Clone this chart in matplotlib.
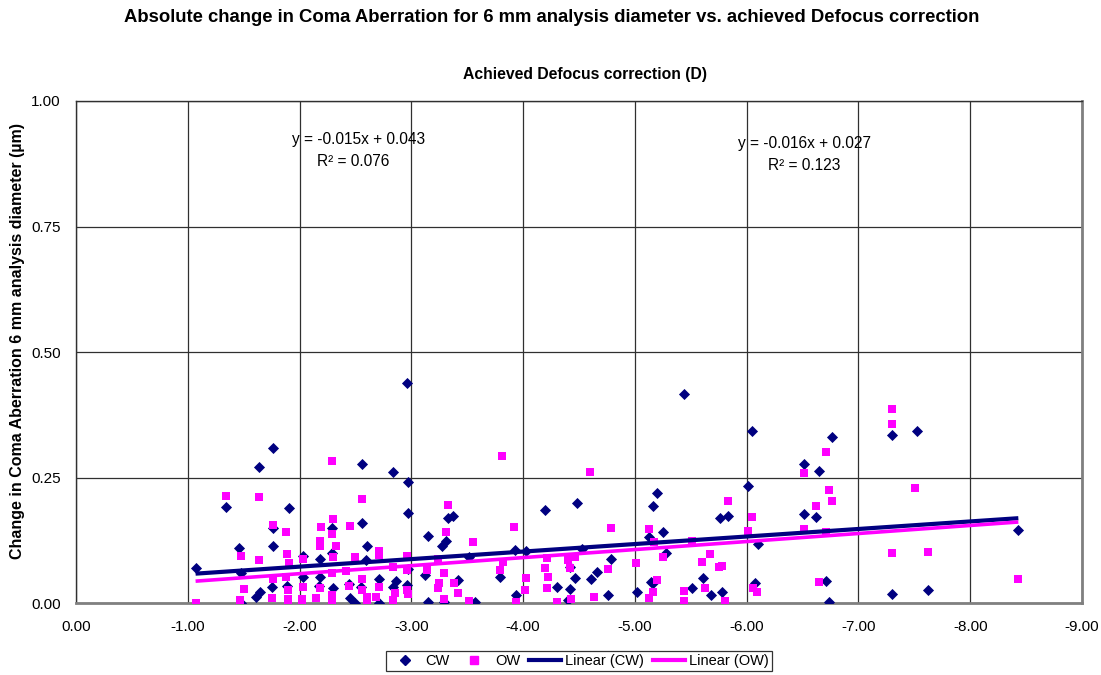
import numpy as np
import matplotlib
matplotlib.use('Agg')
import matplotlib.pyplot as plt
from matplotlib.lines import Line2D

plt.rcParams['font.family'] = ['Liberation Sans', 'DejaVu Sans']

# CW series (achieved defocus correction D, change in coma um)
cw_x = [-1.07, -1.34, -1.46, -1.64, -1.76, -1.91, -1.76, -1.76, -1.48, -1.65,
        -1.61, -1.75, -1.48, -2.03, -2.18, -2.18, -2.29, -2.29, -2.56, -2.56,
        -2.60, -2.59, -2.84, -2.97, -2.97, -2.96, -2.45, -2.50, -2.71, -2.71,
        -2.86, -2.84, -2.30, -2.44, -1.89, -2.03, -2.97, -2.55, -2.17, -2.96,
        -3.15, -3.27, -3.31, -3.33, -3.37, -3.42, -3.15, -3.29, -3.12, -3.57,
        -3.52, -3.79, -3.93, -4.03, -3.94, -4.20, -4.30, -4.42, -4.40, -4.46,
        -4.48, -4.42, -4.53, -4.61, -4.66, -4.76, -4.79, -5.02, -5.13, -5.16,
        -5.20, -5.25, -5.28, -5.14, -5.16, -5.44, -5.51, -5.61, -5.68, -5.76,
        -5.83, -5.78, -6.01, -6.05, -6.07, -6.10, -6.76, -6.51, -6.65, -6.51,
        -6.62, -6.71, -6.74, -7.30, -7.52, -7.30, -7.62, -8.43]
cw_y = [0.071, 0.192, 0.111, 0.271, 0.310, 0.190, 0.115, 0.149, 0.060, 0.023,
        0.012, 0.032, 0.001, 0.094, 0.088, 0.053, 0.149, 0.101, 0.277, 0.159,
        0.114, 0.086, 0.262, 0.242, 0.180, 0.438, 0.011, 0.000, 0.048, 0.001,
        0.045, 0.033, 0.031, 0.038, 0.034, 0.053, 0.068, 0.033, 0.035, 0.036,
        0.134, 0.114, 0.124, 0.170, 0.174, 0.046, 0.002, 0.003, 0.056, 0.002,
        0.093, 0.052, 0.106, 0.104, 0.017, 0.186, 0.032, 0.028, 0.007, 0.050,
        0.199, 0.073, 0.109, 0.048, 0.063, 0.017, 0.088, 0.023, 0.133, 0.194,
        0.219, 0.142, 0.101, 0.043, 0.040, 0.417, 0.030, 0.050, 0.017, 0.169,
        0.174, 0.023, 0.233, 0.343, 0.041, 0.119, 0.332, 0.278, 0.263, 0.178,
        0.171, 0.044, 0.003, 0.336, 0.343, 0.019, 0.027, 0.145]

# OW series
ow_x = [-1.07, -1.34, -1.48, -1.50, -1.47, -1.64, -1.64, -1.76, -1.88, -1.75,
        -1.76, -1.89, -1.91, -1.88, -1.90, -1.90, -1.90, -2.03, -2.03, -2.02,
        -2.02, -2.19, -2.18, -2.18, -2.18, -2.15, -2.29, -2.30, -2.29, -2.33,
        -2.30, -2.29, -2.29, -2.29, -2.45, -2.50, -2.42, -2.44, -2.56, -2.56,
        -2.56, -2.60, -2.68, -2.71, -2.71, -2.71, -2.84, -2.85, -2.96, -2.96,
        -2.97, -2.84, -2.60,
        -3.81, -4.60, -3.33, -3.31, -3.55, -3.92, -4.79, -5.13, -5.17, -5.51,
        -5.83, -6.05, -6.01, -3.14, -3.24, -3.29, -3.25, -3.24, -3.29, -3.38,
        -3.42, -3.52, -2.96, -3.79, -3.82, -4.03, -4.02, -3.94, -4.21, -4.20,
        -4.22, -4.21, -4.30, -4.40, -4.42, -4.46, -4.43, -4.63, -4.76, -5.01,
        -5.25, -5.20, -5.16, -5.13, -5.44, -5.44, -5.60, -5.67, -5.63, -5.75,
        -5.78, -5.81, -6.06, -6.09,
        -7.30, -7.30, -6.71, -6.51, -6.74, -6.76, -6.62, -6.51, -6.71, -7.51,
        -7.30, -7.62, -6.65, -8.43]
ow_y = [0.000, 0.214, 0.095, 0.029, 0.007, 0.211, 0.086, 0.156, 0.142, 0.010,
        0.048, 0.098, 0.081, 0.053, 0.026, 0.008, 0.000, 0.088, 0.033, 0.008,
        0.000, 0.152, 0.125, 0.115, 0.031, 0.010, 0.283, 0.167, 0.138, 0.115,
        0.093, 0.060, 0.017, 0.000, 0.154, 0.093, 0.065, 0.034, 0.207, 0.048,
        0.026, 0.012, 0.012, 0.105, 0.096, 0.033, 0.007, 0.021, 0.095, 0.066,
        0.019, 0.073, 0.001,
        0.294, 0.261, 0.196, 0.141, 0.123, 0.151, 0.149, 0.147, 0.123, 0.125,
        0.204, 0.172, 0.144, 0.066, 0.088, 0.060, 0.040, 0.030, 0.008, 0.040,
        0.021, 0.005, 0.026, 0.066, 0.083, 0.051, 0.026, 0.002, 0.090, 0.070,
        0.053, 0.030, 0.002, 0.086, 0.070, 0.093, 0.008, 0.013, 0.068, 0.080,
        0.092, 0.046, 0.023, 0.011, 0.025, 0.005, 0.082, 0.098, 0.030, 0.073,
        0.075, 0.005, 0.031, 0.022,
        0.387, 0.357, 0.301, 0.259, 0.226, 0.204, 0.194, 0.148, 0.142, 0.229,
        0.101, 0.103, 0.043, 0.048]

# trendlines as shown on the chart: slope, intercept, R^2
cw_fit = (-0.015, 0.043, 0.076)
ow_fit = (-0.016, 0.027, 0.123)

x_ticks = np.arange(0, -10, -1)
y_ticks = [0.0, 0.25, 0.5, 0.75, 1.0]

navy = '#000080'
magenta = '#FF00FF'

fig = plt.figure(figsize=(11.01, 6.75), dpi=100)
ax = fig.add_axes([0.069, 0.1062, 0.9138, 0.7442])

ax.scatter(cw_x, cw_y, marker='D', s=32, color=navy, zorder=3, linewidths=0)
ax.scatter(ow_x, ow_y, marker='s', s=32, color=magenta, zorder=4, linewidths=0)

for xs, fit, col, lw in [(cw_x, cw_fit, navy, 3.0), (ow_x, ow_fit, magenta, 2.6)]:
    xx = np.array([max(xs), min(xs)])
    ax.plot(xx, fit[0] * xx + fit[1], color=col, lw=lw, zorder=5,
            solid_capstyle='butt')

ax.set_xlim(0, -9)
ax.set_ylim(0, 1)
ax.set_xticks(x_ticks)
ax.set_xticklabels(['%.2f' % v for v in x_ticks])
ax.set_yticks(y_ticks)
ax.set_yticklabels(['%.2f' % v for v in y_ticks])
ax.tick_params(axis='both', length=0, labelsize=11, colors='black')
ax.tick_params(axis='x', pad=12)
ax.tick_params(axis='y', pad=11)
ax.grid(True, color='#303030', lw=0.9, zorder=0)
ax.set_axisbelow(True)
for side in ['left', 'top']:
    ax.spines[side].set_color('#303030')
    ax.spines[side].set_linewidth(1.0)
for side in ['right', 'bottom']:
    ax.spines[side].set_color('#808080')
    ax.spines[side].set_linewidth(2.0)

# equations
ax.text(-2.53, 0.924, 'y = %.3fx + %.3f' % (cw_fit[0], cw_fit[1]),
        ha='center', va='center', fontsize=11.2)
ax.text(-2.48, 0.880, 'R² = %.3f' % cw_fit[2], ha='center', va='center', fontsize=11.2)
ax.text(-6.52, 0.915, 'y = %.3fx + %.3f' % (ow_fit[0], ow_fit[1]),
        ha='center', va='center', fontsize=11.2)
ax.text(-6.51, 0.871, 'R² = %.3f' % ow_fit[2], ha='center', va='center', fontsize=11.2)

fig.text(552 / 1101, 1 - 18 / 675, 'Absolute change in Coma Aberration for 6 mm analysis diameter '
         'vs. achieved Defocus correction', ha='center', va='center',
         fontsize=13.3, fontweight='bold')
fig.text(585 / 1101, 1 - 74 / 675, 'Achieved Defocus correction (D)', ha='center',
         va='center', fontsize=11.3, fontweight='bold')
fig.text(18 / 1101, 1 - 341 / 675, 'Change in Coma Aberration 6 mm analysis diameter (µm)',
         ha='center', va='center', rotation=90, fontsize=11.5, fontweight='bold')

handles = [
    Line2D([], [], marker='D', color=navy, ls='none', markersize=5),
    Line2D([], [], marker='s', color=magenta, ls='none', markersize=6),
    Line2D([], [], color=navy, lw=3),
    Line2D([], [], color=magenta, lw=3),
]
leg = fig.legend(handles, ['CW', 'OW', 'Linear (CW)', 'Linear (OW)'],
                 loc='upper center', bbox_to_anchor=(579 / 1101, 1 - 651 / 675),
                 ncol=4, fontsize=10.5, frameon=True, fancybox=False,
                 borderpad=0.2, handlelength=2.2, handletextpad=0.3,
                 columnspacing=0.6, borderaxespad=0)
leg.get_frame().set_edgecolor('black')
leg.get_frame().set_linewidth(0.9)

fig.savefig('out.png', dpi=100)
